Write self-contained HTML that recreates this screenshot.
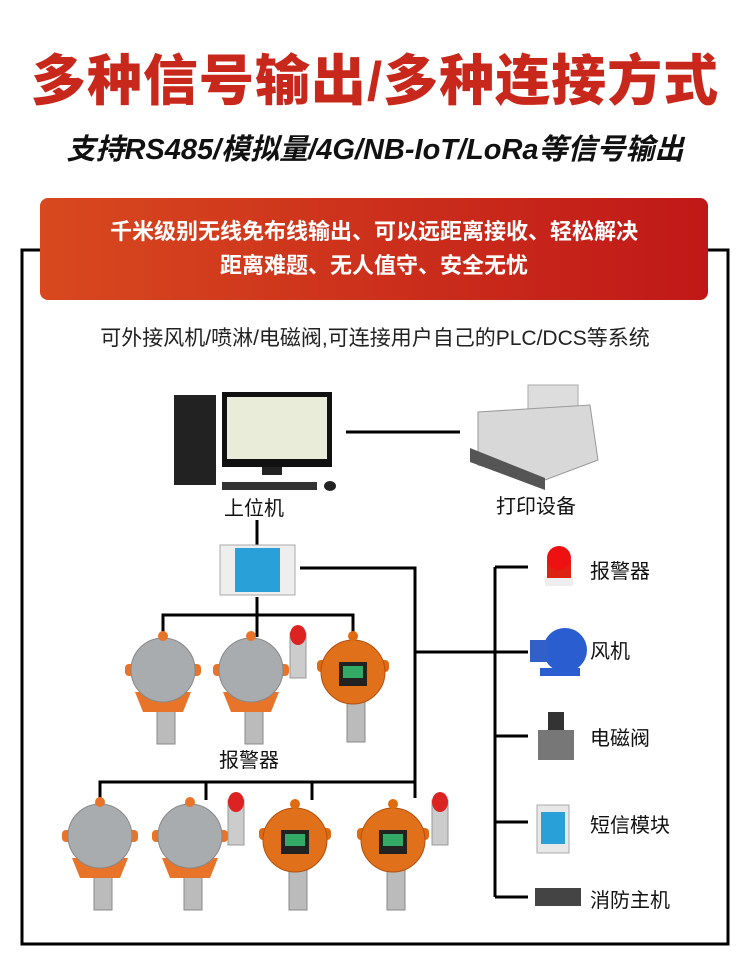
<!DOCTYPE html>
<html><head><meta charset="utf-8"><style>
body{margin:0;width:750px;height:974px;background:#fff;position:relative;overflow:hidden;font-family:"Liberation Sans","Noto Sans CJK SC",sans-serif}
.a{position:absolute;white-space:nowrap}
.t{left:0;width:750px;text-align:center;top:46px;font-size:55px;font-weight:900;color:#c8281c;letter-spacing:1px;line-height:70px}
.s{left:0;width:750px;text-align:center;top:130px;font-size:29px;font-weight:700;font-style:italic;color:#111;line-height:40px}
.b{left:40px;top:198px;width:668px;height:102px;border-radius:8px;background:linear-gradient(90deg,#d8491f,#c01818);color:#fff;font-size:22px;font-weight:700;text-align:center;line-height:34px;padding-top:17px;box-sizing:border-box}
.l{font-size:20px;color:#111}
</style></head><body>
<div class="a t">多种信号输出/多种连接方式</div>
<div class="a s">支持RS485/模拟量/4G/NB-IoT/LoRa等信号输出</div>
<div class="a b">千米级别无线免布线输出、可以远距离接收、轻松解决<br>距离难题、无人值守、安全无忧</div>
<div class="a" style="left:0;width:750px;text-align:center;top:322px;font-size:21px;color:#222">可外接风机/喷淋/电磁阀,可连接用户自己的PLC/DCS等系统</div>
<svg class="a" style="left:0;top:0" width="750" height="974">
<defs>
<g id="gd"><rect x="-6" y="52" width="18" height="40" fill="#bbb" stroke="#888"/><rect x="-38" y="12" width="76" height="12" rx="4" fill="#e8742a"/><polygon points="-28,40 28,40 20,60 -20,60" fill="#e8742a"/><circle r="32" cy="18" fill="#a9acae" stroke="#888"/><circle r="5" cy="-16" fill="#e8742a"/></g>
<g id="od"><rect x="-6" y="52" width="18" height="40" fill="#bbb" stroke="#888"/><rect x="-36" y="10" width="72" height="12" rx="4" fill="#e06a10"/><circle r="32" cy="22" fill="#e0701a" stroke="#b05010"/><rect x="-14" y="12" width="28" height="24" fill="#222"/><rect x="-10" y="16" width="20" height="12" fill="#3a6"/><circle r="5" cy="-14" fill="#e06a10"/></g>
<g id="al"><rect x="-8" y="0" width="16" height="45" fill="#ccc" stroke="#999"/><ellipse cx="0" cy="2" rx="8" ry="10" fill="#d22"/></g>
</defs>
<g stroke="#000" stroke-width="3" fill="none">
<polyline points="40,250 22,250 22,944 728,944 728,250 708,250"/>
<line x1="346" y1="432" x2="460" y2="432"/>
<line x1="257" y1="520" x2="257" y2="547"/>
<polyline points="300,568 415,568 415,798"/>
<line x1="415" y1="652" x2="495" y2="652"/>
<line x1="495" y1="567" x2="495" y2="897"/>
<line x1="495" y1="567" x2="528" y2="567"/><line x1="495" y1="652" x2="528" y2="652"/><line x1="495" y1="736" x2="528" y2="736"/><line x1="495" y1="822" x2="528" y2="822"/><line x1="495" y1="897" x2="528" y2="897"/>
<line x1="257" y1="597" x2="257" y2="637"/>
<polyline points="163,637 163,615 353,615 353,637"/>
<polyline points="100,800 100,782 415,782"/>
<line x1="206" y1="782" x2="206" y2="800"/><line x1="312" y1="782" x2="312" y2="800"/>
</g>
<rect x="174" y="395" width="42" height="90" fill="#222"/>
<rect x="222" y="392" width="110" height="75" fill="#111"/><rect x="227" y="397" width="100" height="62" fill="#e8ecd8"/><rect x="262" y="467" width="20" height="8" fill="#222"/>
<rect x="222" y="482" width="95" height="8" fill="#333"/><ellipse cx="330" cy="486" rx="6" ry="5" fill="#222"/>
<rect x="528" y="385" width="50" height="30" fill="#ddd" stroke="#aaa"/>
<path d="M478,412 L590,405 L598,460 L545,480 L478,465 Z" fill="#d8d8d8" stroke="#999"/>
<path d="M470,448 L545,478 L545,490 L470,462Z" fill="#555"/>
<rect x="220" y="545" width="75" height="50" fill="#eee" stroke="#aaa"/><rect x="235" y="548" width="45" height="44" fill="#29a0d8"/>
<use href="#gd" x="163" y="652"/><use href="#gd" x="251" y="652"/><use href="#al" x="298" y="633"/><use href="#od" x="353" y="650"/>
<use href="#gd" x="100" y="818"/><use href="#gd" x="190" y="818"/><use href="#al" x="236" y="800"/><use href="#od" x="295" y="818"/><use href="#od" x="393" y="818"/><use href="#al" x="440" y="800"/>
<rect x="547" y="560" width="24" height="20" fill="#d21"/><ellipse cx="559" cy="558" rx="12" ry="12" fill="#e11"/><rect x="545" y="578" width="28" height="8" fill="#eee"/>
<circle cx="565" cy="650" r="22" fill="#2a5ed0"/><rect x="530" y="640" width="18" height="22" fill="#3060c8"/><rect x="540" y="668" width="40" height="8" fill="#2a5ed0"/>
<rect x="548" y="712" width="16" height="20" fill="#333"/><rect x="538" y="730" width="36" height="30" fill="#777"/>
<rect x="537" y="805" width="32" height="48" fill="#e8e8e8" stroke="#aaa"/><rect x="541" y="812" width="24" height="32" fill="#29a0d8"/>
<rect x="535" y="888" width="46" height="18" fill="#444"/>
</svg>
<div class="a l" style="left:224px;top:492px">上位机</div>
<div class="a l" style="left:496px;top:490px">打印设备</div>
<div class="a l" style="left:219px;top:744px">报警器</div>
<div class="a l" style="left:590px;top:555px">报警器</div>
<div class="a l" style="left:590px;top:635px">风机</div>
<div class="a l" style="left:590px;top:722px">电磁阀</div>
<div class="a l" style="left:590px;top:809px">短信模块</div>
<div class="a l" style="left:590px;top:884px">消防主机</div>
</body></html>
